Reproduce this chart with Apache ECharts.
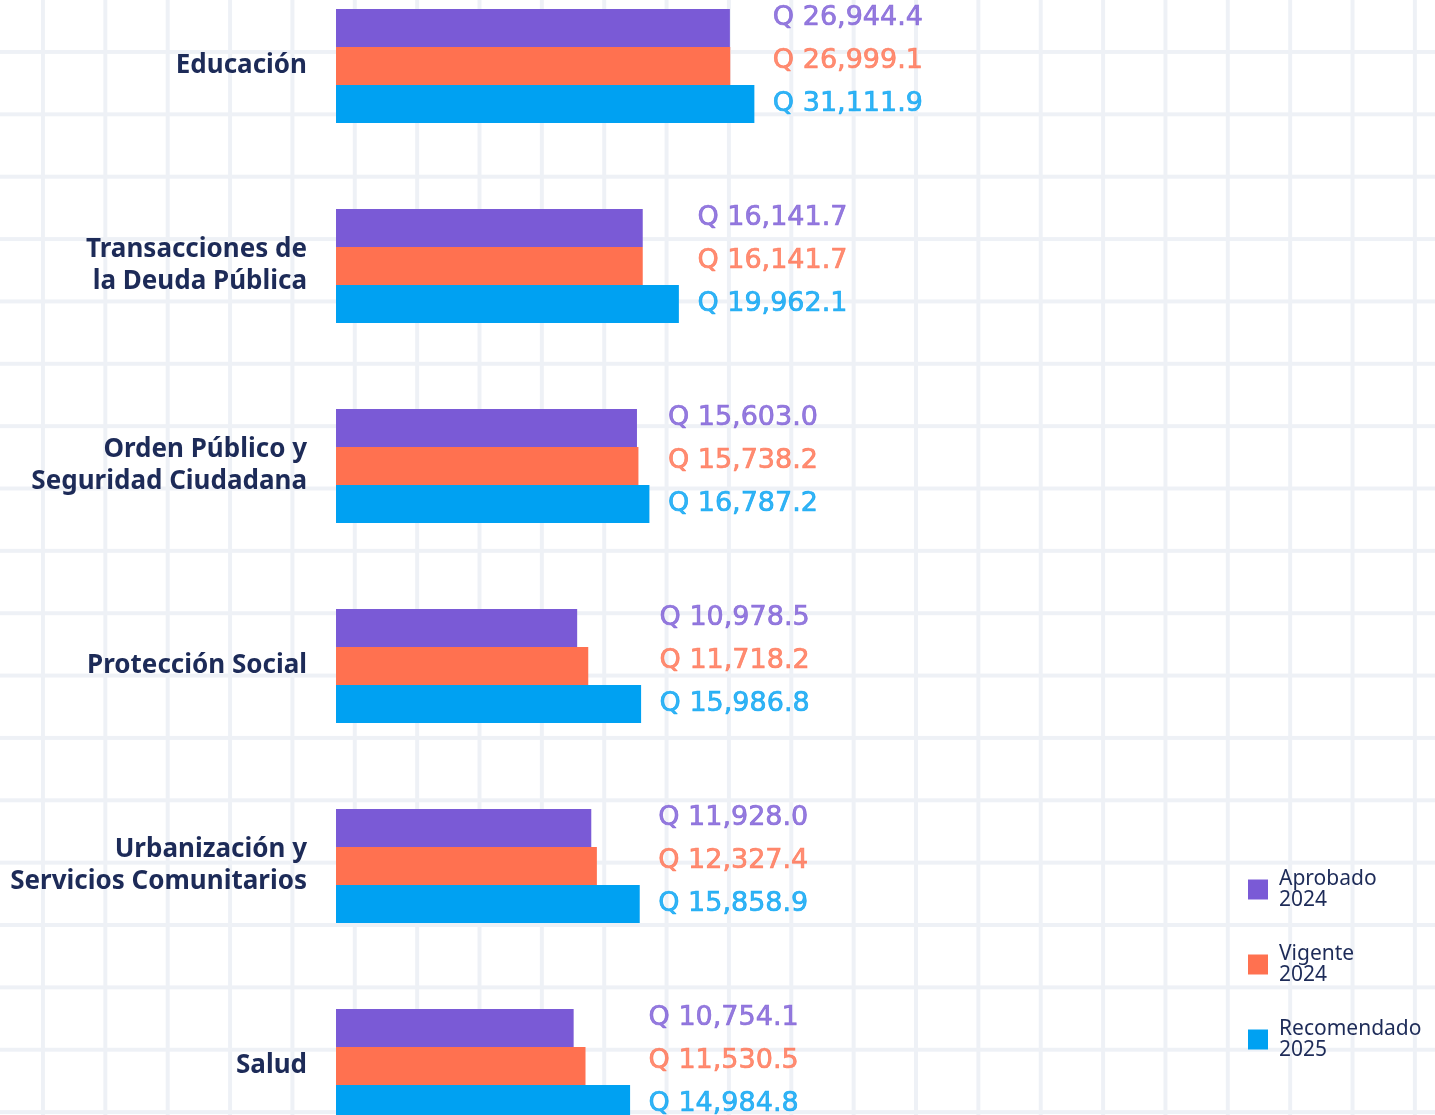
<!DOCTYPE html>
<html lang="es">
<head>
    <meta charset="UTF-8">
    <title>Presupuesto por finalidad</title>
    <style>
        body {
            padding: 0;
            margin: 0;
            background-color: #FFFFFF;
            overflow: hidden;
        }
        /* papel cuadriculado de fondo */
        .chart-container {
            width: 1435px;
            height: 1115px;
            background-image:
                linear-gradient(to right, #eef1f6 4px, transparent 4px),
                linear-gradient(to bottom, #eef1f6 4px, transparent 4px);
            background-size: 62.36px 62.36px;
            background-position: 41px 50px;
        }
        #main_chart {
            width: 100%;
            height: 100%;
        }
    </style>
</head>
<body>
<div class="chart-container">
    <div id="main_chart"></div>
</div>
<script type="text/javascript" src="https://cdn.jsdelivr.net/npm/echarts@6/dist/echarts.min.js"></script>
<script type="text/javascript">
var categorias = [
    'Educación',
    'Transacciones de\nla Deuda Pública',
    'Orden Público y\nSeguridad Ciudadana',
    'Protección Social',
    'Urbanización y\nServicios Comunitarios',
    'Salud'
];
var series_nombres = ['Aprobado 2024', 'Vigente 2024', 'Recomendado 2025'];
var aprobado2024 = [26944.4, 16141.7, 15603.0, 10978.5, 11928.0, 10754.1];
var vigente2024 = [26999.1, 16141.7, 15738.2, 11718.2, 12327.4, 11530.5];
var recomendado2025 = [31111.9, 19962.1, 16787.2, 15986.8, 15858.9, 14984.8];

var colores = ['#7a5ad6', '#ff7150', '#00a1f2'];
var navy = '#1d2b58';
var fuente = '"Noto Sans", sans-serif';
var valores = [aprobado2024, vigente2024, recomendado2025];

var fmt = function(v) {
    return 'Q ' + v.toLocaleString('en-US', {minimumFractionDigits: 1, maximumFractionDigits: 1});
};

// las etiquetas de cada grupo van alineadas después de la barra más larga
var maxGrupo = categorias.map(function(c, i) {
    return Math.max(aprobado2024[i], vigente2024[i], recomendado2025[i]);
});
var desplazY = [-48, -5, 38];

var dom = document.getElementById('main_chart');

var barras = valores.map(function(vals, k) {
    return {
        type: 'bar',
        name: series_nombres[k],
        data: vals,
        barWidth: 38,
        barGap: '0%',
        itemStyle: { color: colores[k] },
        silent: true
    };
});

var etiquetas = valores.map(function(vals, k) {
    return {
        type: 'scatter',
        name: 'etq' + k,
        data: maxGrupo.map(function(m, i) { return [m, i]; }),
        symbolSize: 1,
        itemStyle: { color: 'transparent' },
        silent: true,
        label: {
            show: true,
            position: 'right',
            distance: 18,
            offset: [0, desplazY[k]],
            color: colores[k],
            textBorderColor: colores[k],
            textBorderWidth: 0.7,
            fontSize: 27,
            fontFamily: '"DejaVu Sans", sans-serif',
            formatter: function(p) { return fmt(vals[p.dataIndex]); }
        }
    };
});

var option = {
    animation: false,
    textStyle: { fontFamily: fuente },
    grid: {
        left: 336,
        right: 482,
        top: -34,
        bottom: -51,
        outerBoundsMode: 'none'
    },
    legend: {
        data: series_nombres,
        orient: 'vertical',
        left: 1248,
        top: 858,
        padding: 0,
        itemWidth: 20,
        itemHeight: 20,
        itemGap: 12,
        icon: 'rect',
        formatter: function(n) { return n.replace(' ', '\n'); },
        textStyle: {
            color: navy,
            fontSize: 21,
            lineHeight: 21,
            padding: [21, 0, 0, 6]
        }
    },
    xAxis: {
        type: 'log',
        min: 2660,
        max: 100000,
        show: false
    },
    yAxis: {
        type: 'category',
        inverse: true,
        data: categorias,
        axisLine: { show: false },
        axisTick: { show: false },
        splitLine: { show: false },
        axisLabel: {
            margin: 29,
            color: navy,
            fontSize: 26,
            fontWeight: 'bold',
            lineHeight: 32
        }
    },
    series: barras.concat(etiquetas)
};

var chart = echarts.init(dom);
chart.setOption(option);
</script>
</body>
</html>
